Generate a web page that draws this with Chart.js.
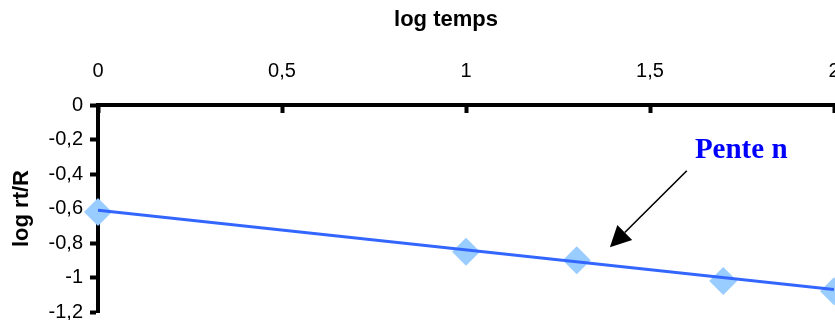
<!DOCTYPE html>
<html>
<head>
<meta charset="utf-8">
<script src="https://cdn.jsdelivr.net/npm/chart.js@4/dist/chart.umd.min.js"></script>
<style>
  html, body { margin: 0; padding: 0; background: #fff; overflow: hidden; }
  .wrap { width: 835px; height: 320px; position: relative; }
</style>
</head>
<body>
<div class="wrap"><canvas id="chart"></canvas></div>
<script>
// values
const logTemps = [0, 1, 1.301, 1.699, 2];
const logRtR = [-0.62, -0.85, -0.90, -1.02, -1.08];
// regression line (pente n), ends
const trendX = [0, 2];
const trendY = [-0.61, -1.07];

const xTickLabels = ['0', '0,5', '1', '1,5', '2'];
const yTickLabels = ['0', '-0,2', '-0,4', '-0,6', '-0,8', '-1', '-1,2'];

const sansFont = '"Liberation Sans", Arial, sans-serif';

const annotations = {
    id: 'annotations',
    afterDatasetsDraw(chart) {
        const { ctx, scales: { x, y } } = chart;
        ctx.save();

        ctx.fillStyle = '#000';
        ctx.font = 'bold 22px ' + sansFont;
        ctx.textAlign = 'center';
        ctx.textBaseline = 'alphabetic';
        ctx.fillText('log temps', 446, 26);

        ctx.fillStyle = '#0000FF';
        ctx.font = 'bold 29px "Liberation Serif", "Times New Roman", serif';
        ctx.textAlign = 'left';
        ctx.fillText('Pente n', x.getPixelForValue(1.622), y.getPixelForValue(-0.307));

        // arrow pointing at the line
        const x0 = x.getPixelForValue(1.6), y0 = y.getPixelForValue(-0.381);
        const x1 = x.getPixelForValue(1.391), y1 = y.getPixelForValue(-0.825);
        const ang = Math.atan2(y1 - y0, x1 - x0);
        const head = 21, half = 10.5;
        const bx = x1 - Math.cos(ang) * head, by = y1 - Math.sin(ang) * head;
        ctx.strokeStyle = '#000';
        ctx.lineWidth = 1.6;
        ctx.beginPath();
        ctx.moveTo(x0, y0);
        ctx.lineTo(bx, by);
        ctx.stroke();
        ctx.fillStyle = '#000';
        ctx.beginPath();
        ctx.moveTo(x1, y1);
        ctx.lineTo(bx - Math.sin(ang) * half, by + Math.cos(ang) * half);
        ctx.lineTo(bx + Math.sin(ang) * half, by - Math.cos(ang) * half);
        ctx.closePath();
        ctx.fill();

        ctx.restore();
    }
};

const ctx = document.getElementById('chart').getContext('2d');
new Chart(ctx, {
    type: 'scatter',
    data: {
        datasets: [
            {
                label: 'pente',
                type: 'line',
                data: trendX.map((v, i) => ({ x: v, y: trendY[i] })),
                borderColor: '#3366FF',
                borderWidth: 3,
                pointRadius: 0,
                fill: false
            },
            {
                label: 'log rt/R',
                data: logTemps.map((v, i) => ({ x: v, y: logRtR[i] })),
                pointStyle: 'rectRot',
                pointRadius: 14,
                pointHoverRadius: 14,
                backgroundColor: '#99CCFF',
                borderWidth: 0,
                clip: false
            }
        ]
    },
    options: {
        responsive: true,
        maintainAspectRatio: false,
        animation: false,
        events: [],
        layout: { autoPadding: false, padding: { top: 0, left: 0, right: 1, bottom: 8 } },
        plugins: {
            legend: { display: false },
            tooltip: { enabled: false }
        },
        scales: {
            x: {
                type: 'linear',
                position: 'top',
                min: 0,
                max: 2,
                grid: {
                    drawOnChartArea: false,
                    tickLength: -8,
                    tickWidth: 4,
                    tickColor: '#000'
                },
                border: { color: '#000', width: 4 },
                ticks: {
                    stepSize: 0.5,
                    padding: 30,
                    maxRotation: 0,
                    color: '#000',
                    font: { size: 20, family: sansFont },
                    callback: (v, i) => xTickLabels[i]
                },
                afterFit(scale) {
                    scale.height = 105;
                    scale.paddingLeft = 0;
                    scale.paddingRight = 0;
                }
            },
            y: {
                type: 'linear',
                min: -1.2,
                max: 0,
                grid: {
                    drawOnChartArea: false,
                    tickLength: 8,
                    tickWidth: 4,
                    tickColor: '#000'
                },
                border: { color: '#000', width: 4 },
                ticks: {
                    stepSize: 0.2,
                    padding: 7,
                    color: '#000',
                    font: { size: 20, family: sansFont },
                    callback: (v, i, all) => yTickLabels[all.length - 1 - i]
                },
                title: {
                    display: true,
                    text: 'log rt/R',
                    color: '#000',
                    padding: { top: 9, bottom: 0 },
                    font: { size: 22, weight: 'bold', family: sansFont }
                },
                afterFit(scale) {
                    scale.width = 98;
                    scale.paddingTop = 0;
                    scale.paddingBottom = 0;
                }
            }
        }
    },
    plugins: [annotations]
});
</script>
</body>
</html>
